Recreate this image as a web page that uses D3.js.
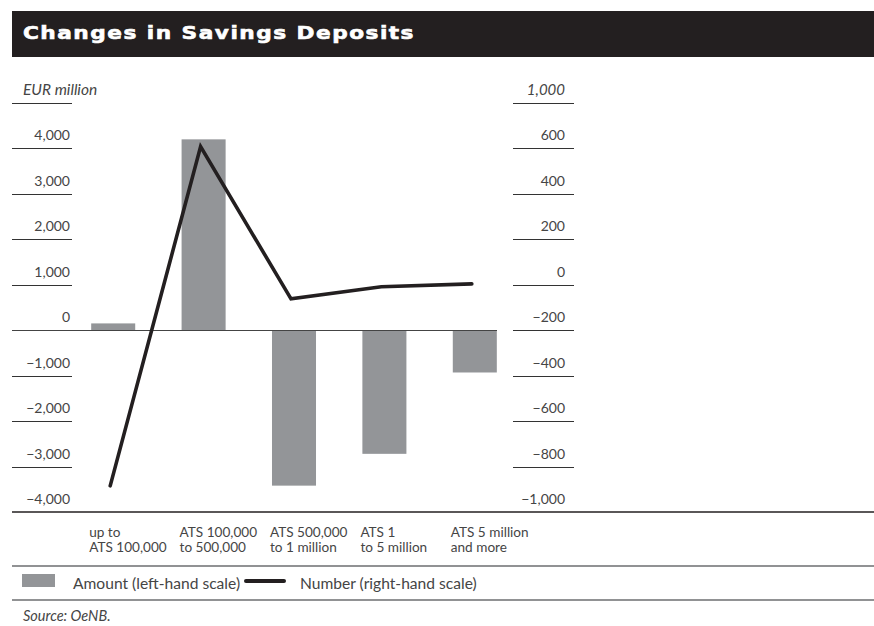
<!DOCTYPE html>
<html>
<head>
<meta charset="utf-8">
<script src="https://cdn.jsdelivr.net/npm/d3@7"></script>
<style>
  html, body { margin: 0; padding: 0; background: #fff; }
  svg { display: block; }
  text { font-family: Lato, "Open Sans", sans-serif; fill: #454545; }
</style>
</head>
<body>
<svg id="chart" width="874" height="626"></svg>
<script>
// Size bands of savings deposits
const categories = [
  ["up to", "ATS 100,000"],
  ["ATS 100,000", "to 500,000"],
  ["ATS 500,000", "to 1 million"],
  ["ATS 1", "to 5 million"],
  ["ATS 5 million", "and more"]
];
// Change in amount, EUR million (left-hand scale)
const amounts = [150, 4200, -3420, -2720, -930];
// Change in number of deposits, in 1,000 (right-hand scale)
const numbers = [-885, 608, -62, -9, 4];

const leftTicks = [-4000, -3000, -2000, -1000, 0, 1000, 2000, 3000, 4000];
const rightTicks = [-1000, -800, -600, -400, -200, 0, 200, 400, 600];
const leftUnit = "EUR million";
const rightUnit = "1,000";
const title = "Changes in Savings Deposits";
const legendLabels = ["Amount (left-hand scale)", "Number (right-hand scale)"];
const sourceNote = "Source: OeNB.";

const svg = d3.select("#chart");
const W = 874;
const barColor = "#939598";
const ink = "#231f20";

const x = d3.scaleBand()
  .domain(d3.range(categories.length))
  .range([68, 520])
  .paddingInner(0.513)
  .paddingOuter(0.2565);

const yL = d3.scaleLinear().domain([-4000, 5000]).range([512, 103]);
const yR = d3.scaleLinear().domain([-1000, 800]).range([512, 103]);

const fmt = v => (v < 0 ? "\u2212" : "") + d3.format(",")(Math.abs(v));
const px = v => Math.round(v) + 0.5;

// Title banner
svg.append("rect").attr("x", 12).attr("y", 11).attr("width", W - 12).attr("height", 46).attr("fill", ink);
svg.append("text")
  .attr("x", 23).attr("y", 39)
  .attr("font-size", 17.5).attr("font-weight", "bold")
  .attr("letter-spacing", 1.2)
  .attr("textLength", 392).attr("lengthAdjust", "spacingAndGlyphs")
  .style("font-family", "'DejaVu Sans', Verdana, sans-serif")
  .style("fill", "#fff")
  .style("stroke", "#fff").style("stroke-width", 0.6)
  .text(title);

// Left axis: short rules under each label
const gL = svg.append("g");
gL.selectAll("line").data(leftTicks.slice(1).concat([5000])).join("line")
  .attr("x1", 12).attr("x2", 72)
  .attr("y1", d => px(yL(d))).attr("y2", d => px(yL(d)))
  .attr("stroke", "#333").attr("stroke-width", 1);
gL.selectAll("text.tick").data(leftTicks).join("text")
  .attr("class", "tick")
  .attr("x", 70).attr("y", d => yL(d) - 8)
  .attr("text-anchor", "end").attr("font-size", 14)
  .text(fmt);
gL.append("text")
  .attr("x", 23).attr("y", yL(5000) - 8)
  .attr("font-size", 15.5).attr("font-style", "italic")
  .text(leftUnit);

// Right axis
const gR = svg.append("g");
gR.selectAll("line").data(rightTicks.slice(1).concat([800])).join("line")
  .attr("x1", 513).attr("x2", 574)
  .attr("y1", d => px(yR(d))).attr("y2", d => px(yR(d)))
  .attr("stroke", "#333").attr("stroke-width", 1);
gR.selectAll("text.tick").data(rightTicks).join("text")
  .attr("class", "tick")
  .attr("x", 565).attr("y", d => yR(d) - 8)
  .attr("text-anchor", "end").attr("font-size", 14)
  .text(fmt);
gR.append("text")
  .attr("x", 565).attr("y", yR(800) - 8)
  .attr("text-anchor", "end")
  .attr("font-size", 15).attr("font-style", "italic")
  .text(rightUnit);

// Bars (amount)
svg.append("g").selectAll("rect").data(amounts).join("rect")
  .attr("x", (d, i) => x(i))
  .attr("width", x.bandwidth())
  .attr("y", d => yL(Math.max(0, d)))
  .attr("height", d => Math.abs(yL(d) - yL(0)))
  .attr("fill", barColor);

// Zero line
svg.append("line")
  .attr("x1", 12).attr("x2", 497)
  .attr("y1", px(yL(0))).attr("y2", px(yL(0)))
  .attr("stroke", "#444").attr("stroke-width", 1);

// Line (number)
const line = d3.line()
  .x((d, i) => x(i) + x.bandwidth() / 2 - 3)
  .y(d => yR(d));
svg.append("path")
  .datum(numbers)
  .attr("d", line)
  .attr("fill", "none")
  .attr("stroke", ink)
  .attr("stroke-width", 3.6)
  .attr("stroke-linejoin", "miter")
  .attr("stroke-linecap", "round");

// Baseline and separators
svg.append("line").attr("x1", 12).attr("x2", W).attr("y1", 512).attr("y2", 512)
  .attr("stroke", ink).attr("stroke-width", 1.5);
[566, 600].forEach(yy => {
  svg.append("line").attr("x1", 12).attr("x2", W).attr("y1", yy).attr("y2", yy)
    .attr("stroke", "#6d6e71").attr("stroke-width", 1.5);
});

// Category labels
const gC = svg.append("g");
categories.forEach((lines, i) => {
  const t = gC.append("text")
    .attr("x", x(i) - 2).attr("y", 537)
    .attr("font-size", 13.6);
  lines.forEach((s, j) => {
    t.append("tspan").attr("x", x(i) - 2).attr("dy", j === 0 ? 0 : 15).text(s);
  });
});

// Legend
svg.append("rect").attr("x", 22).attr("y", 574).attr("width", 33).attr("height", 13).attr("fill", barColor);
svg.append("text").attr("x", 73).attr("y", 589).attr("font-size", 15.6).text(legendLabels[0]);
svg.append("line").attr("x1", 246).attr("x2", 284).attr("y1", 581).attr("y2", 581)
  .attr("stroke", ink).attr("stroke-width", 4).attr("stroke-linecap", "round");
svg.append("text").attr("x", 300).attr("y", 589).attr("font-size", 15.6).text(legendLabels[1]);

// Source
svg.append("text").attr("x", 23).attr("y", 621)
  .attr("font-size", 14.5).attr("font-style", "italic")
  .text(sourceNote);
</script>
</body>
</html>
